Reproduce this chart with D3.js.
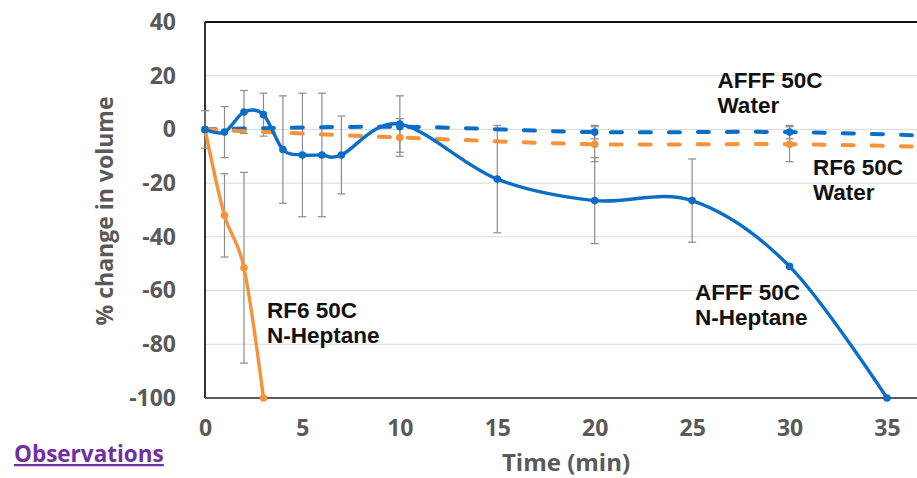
<!DOCTYPE html>
<html lang="en">
<head>
  <meta charset="utf-8">
  <title>% change in volume</title>
  <script src="https://d3js.org/d3.v7.min.js"></script>
  <style type="text/css">
    body { margin: 0; background: #fff; }
    .tick text { font-family: "Open Sans", sans-serif; font-weight: 700; fill: #595959; }
    .lbl { font-family: "Liberation Sans", Arial, sans-serif; font-weight: 700; font-size: 22.5px; fill: #111; }
  </style>
</head>
<body>
  <script type="text/javascript">
    // AFFF 50C N-Heptane (solid blue)
    var affHepTime = [0, 1, 2, 3, 4, 5, 6, 7, 10, 15, 20, 25, 30, 35];
    var affHepVal = [0, -1, 6.5, 5.5, -7.5, -9.5, -9.5, -9.5, 2, -18.5, -26.5, -26.5, -51, -100];
    var affHepErr = [7, 9.5, 8, 8, 20, 23, 23, 14.5, 10.5, 20, 16, 15.5, 0, 0];

    // RF6 50C N-Heptane (solid orange)
    var rf6HepTime = [0, 1, 2, 3];
    var rf6HepVal = [0, -32, -51.5, -100];
    var rf6HepErr = [0, 15.5, 35.5, 0];

    // AFFF 50C Water (dashed blue)
    var affWatTime = [0, 10, 20, 30, 40];
    var affWatVal = [0, 1, -1, -1, -3];
    var affWatErr = [0, 0, 2.5, 2.5, 0];

    // RF6 50C Water (dashed orange)
    var rf6WatTime = [0, 10, 20, 30, 40];
    var rf6WatVal = [0, -3, -5.5, -5.5, -7];
    var rf6WatErr = [0, 7, 6.5, 6.5, 0];

    var xTicks = [0, 5, 10, 15, 20, 25, 30, 35];
    var yTicks = [40, 20, 0, -20, -40, -60, -80, -100];

    // label anchors in data units: [time, value, line1, line2]
    var labels = [
      [26.3, 15.4, "AFFF 50C", "Water"],
      [31.2, -17, "RF6 50C", "Water"],
      [3.18, -70.2, "RF6 50C", "N-Heptane"],
      [25.15, -63.5, "AFFF 50C", "N-Heptane"]
    ];

    var blue = "#0a6ec6";
    var orange = "#f7923a";

    var w = 917, h = 478;
    var svg = d3.select("body").append("svg").attr("width", w).attr("height", h);

    var x = d3.scaleLinear().domain([0, 35]).range([205, 887]);
    var y = d3.scaleLinear().domain([-100, 40]).range([398, 22]);

    // gridlines
    svg.append("g").selectAll("line").data(yTicks.filter(function (d) { return d > -100 && d < 40; }))
      .enter().append("line")
      .attr("x1", x(0)).attr("x2", w)
      .attr("y1", function (d) { return y(d); }).attr("y2", function (d) { return y(d); })
      .attr("stroke", "#d9d9d9").attr("stroke-width", 1);

    // axes (plain hyphen for negatives, like the original)
    var yAxis = svg.append("g").attr("transform", "translate(" + x(0) + ",0)")
      .call(d3.axisLeft(y).tickValues(yTicks).tickSize(0).tickPadding(29).tickFormat(function (d) { return String(d); }));
    yAxis.select(".domain").remove();
    yAxis.selectAll("text").style("font-size", "23px");

    var xAxis = svg.append("g").attr("transform", "translate(0," + y(-100) + ")")
      .call(d3.axisBottom(x).tickValues(xTicks).tickSize(0).tickPadding(22));
    xAxis.select(".domain").remove();
    xAxis.selectAll("text").style("font-size", "23px");

    // frame
    svg.append("line").attr("x1", x(0)).attr("x2", w).attr("y1", y(40)).attr("y2", y(40))
      .attr("stroke", "#111").attr("stroke-width", 2);
    svg.append("line").attr("x1", x(0)).attr("x2", x(0)).attr("y1", y(40)).attr("y2", y(-100))
      .attr("stroke", "#333").attr("stroke-width", 2);
    svg.append("line").attr("x1", x(0)).attr("x2", w).attr("y1", y(-100)).attr("y2", y(-100))
      .attr("stroke", "#595959").attr("stroke-width", 2);

    function zip(t, v, e) {
      return t.map(function (d, i) { return { t: d, v: v[i], e: e[i] }; });
    }
    var series = [
      { pts: zip(affWatTime, affWatVal, affWatErr), color: blue, dash: "11,18", width: 4 },
      { pts: zip(rf6WatTime, rf6WatVal, rf6WatErr), color: orange, dash: "11,18", width: 4 },
      { pts: zip(rf6HepTime, rf6HepVal, rf6HepErr), color: orange, dash: null, width: 3.4 },
      { pts: zip(affHepTime, affHepVal, affHepErr), color: blue, dash: null, width: 3.4 }
    ];

    // error bars
    var eb = svg.append("g").attr("stroke", "#8c8c8c").attr("stroke-width", 1.2);
    series.forEach(function (s) {
      s.pts.filter(function (p) { return p.e > 0; }).forEach(function (p) {
        var cx = x(p.t);
        eb.append("line").attr("x1", cx).attr("x2", cx).attr("y1", y(p.v + p.e)).attr("y2", y(p.v - p.e));
        eb.append("line").attr("x1", cx - 4).attr("x2", cx + 4).attr("y1", y(p.v + p.e)).attr("y2", y(p.v + p.e));
        eb.append("line").attr("x1", cx - 4).attr("x2", cx + 4).attr("y1", y(p.v - p.e)).attr("y2", y(p.v - p.e));
      });
    });

    var line = d3.line()
      .x(function (d) { return x(d.t); })
      .y(function (d) { return y(d.v); })
      .curve(d3.curveCatmullRom.alpha(0));

    series.forEach(function (s) {
      svg.append("path").datum(s.pts)
        .attr("d", line)
        .attr("fill", "none")
        .attr("stroke", s.color)
        .attr("stroke-width", s.width)
        .attr("stroke-linecap", s.dash ? "round" : "butt")
        .attr("stroke-dasharray", s.dash);
      svg.append("g").selectAll("circle").data(s.pts.filter(function (p) { return p.t <= 35; }))
        .enter().append("circle")
        .attr("cx", function (d) { return x(d.t); })
        .attr("cy", function (d) { return y(d.v); })
        .attr("r", 3.8)
        .attr("fill", s.color);
    });

    // series labels
    labels.forEach(function (l) {
      var t = svg.append("text").attr("class", "lbl")
        .attr("x", x(l[0])).attr("y", y(l[1]));
      t.append("tspan").attr("x", x(l[0])).text(l[2]);
      t.append("tspan").attr("x", x(l[0])).attr("dy", 25).text(l[3]);
    });

    // axis titles
    svg.append("text")
      .attr("transform", "translate(113," + ((y(40) + y(-100)) / 2 + 1) + ") rotate(-90)")
      .attr("text-anchor", "middle")
      .style("font-family", "'Open Sans', sans-serif").style("font-weight", 700)
      .style("font-size", "23px").style("fill", "#595959")
      .text("% change in volume");

    svg.append("text")
      .attr("x", 566).attr("y", 471)
      .attr("text-anchor", "middle")
      .style("font-family", "'Open Sans', sans-serif").style("font-weight", 700)
      .style("font-size", "24px").style("fill", "#595959")
      .text("Time (min)");

    svg.append("text")
      .attr("x", 14).attr("y", 462)
      .style("font-family", "'Open Sans', sans-serif").style("font-weight", 700)
      .style("font-size", "22.5px").style("fill", "#7030a0")
      .style("text-decoration", "underline")
      .text("Observations");
  </script>
</body>
</html>
